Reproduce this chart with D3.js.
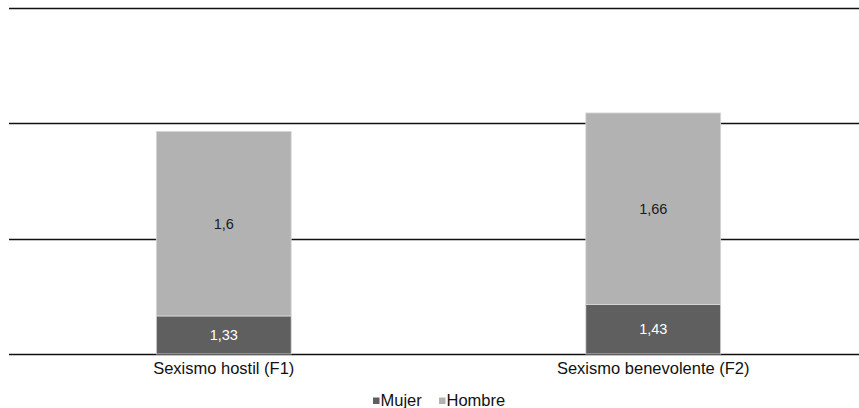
<!DOCTYPE html>
<html>
<head>
<meta charset="utf-8">
<script src="https://cdn.jsdelivr.net/npm/d3@7"></script>
<style>
html,body{margin:0;padding:0;background:#fff;}
svg{display:block;}
text{font-family:"Liberation Sans", Arial, Helvetica, sans-serif;}
</style>
</head>
<body>
<svg id="chart" width="859" height="408"></svg>
<script>
const categories = ["Sexismo hostil (F1)", "Sexismo benevolente (F2)"];
const seriesNames = ["Mujer", "Hombre"];
const mujer = [1.33, 1.43];
const hombre = [1.6, 1.66];
const yTicks = [1, 2, 3, 4];
const colors = ["#5f5f5f", "#b2b2b2"];
const labelColors = ["#ffffff", "#1a1a1a"];

const svg = d3.select("#chart");
const x = d3.scaleBand().domain(categories).range([9, 868]).paddingInner(0.686).paddingOuter(0.343);
const y = d3.scaleLinear().domain([1, 4]).range([354, 8]);

// gridlines
svg.append("g").selectAll("line").data(yTicks).join("line")
  .attr("x1", 9).attr("x2", 859)
  .attr("y1", d => Math.round(y(d)) + 0.5).attr("y2", d => Math.round(y(d)) + 0.5)
  .attr("stroke", "#111").attr("stroke-width", 1.3);

const rows = categories.map((c, i) => ({cat: c, Mujer: mujer[i], Hombre: hombre[i]}));
const stacked = d3.stack().keys(seriesNames)(rows);
// value axis starts at 1, bars are clipped at the axis minimum
const base = y.domain()[0];

const g = svg.append("g");
stacked.forEach((s, si) => {
  g.append("g").selectAll("rect").data(s).join("rect")
    .attr("x", d => x(d.data.cat))
    .attr("width", x.bandwidth())
    .attr("y", d => y(Math.max(d[1], base)))
    .attr("height", d => y(Math.max(d[0], base)) - y(Math.max(d[1], base)))
    .attr("fill", colors[si])
    .attr("stroke", "#d8d8d8").attr("stroke-width", 0.8);
});
stacked.forEach((s, si) => {
  g.append("g").selectAll("text").data(s).join("text")
    .attr("x", d => x(d.data.cat) + x.bandwidth() / 2)
    .attr("y", d => (y(Math.max(d[0], base)) + y(Math.max(d[1], base))) / 2)
    .attr("dy", "0.35em")
    .attr("text-anchor", "middle")
    .attr("font-size", "14.5px")
    .attr("fill", labelColors[si])
    .text(d => String(d.data[seriesNames[si]]).replace(".", ","));
});

// category labels
svg.append("g").selectAll("text").data(categories).join("text")
  .attr("x", d => x(d) + x.bandwidth() / 2)
  .attr("y", 374)
  .attr("text-anchor", "middle")
  .attr("font-size", "16.5px")
  .attr("fill", "#111")
  .text(d => d);

// legend
const legendItems = [
  {name: seriesNames[0], color: colors[0], sq: 373, tx: 380.5},
  {name: seriesNames[1], color: colors[1], sq: 439, tx: 446.5}
];
const lg = svg.append("g");
legendItems.forEach(it => {
  lg.append("rect").attr("x", it.sq).attr("y", 397.5).attr("width", 6.5).attr("height", 6.5).attr("fill", it.color);
  lg.append("text").attr("x", it.tx).attr("y", 405.5).attr("font-size", "16.5px").attr("fill", "#111").text(it.name);
});
</script>
</body>
</html>
